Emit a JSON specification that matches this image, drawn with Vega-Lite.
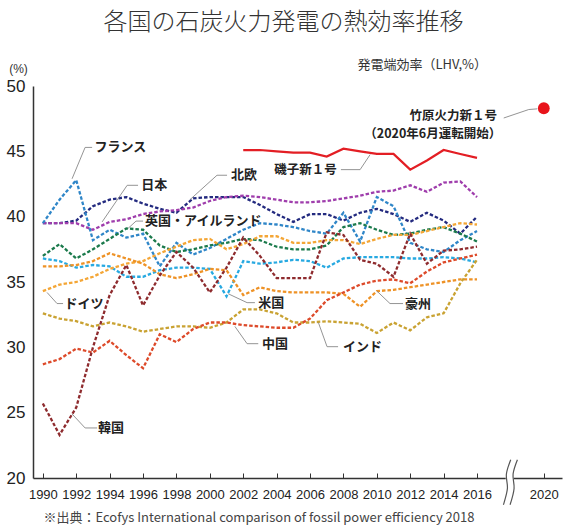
{
  "$schema": "https://vega.github.io/schema/vega-lite/v6.json",
  "width": 529,
  "height": 392,
  "autosize": "none",
  "padding": {"left": 33, "top": 86, "right": 4, "bottom": 48},
  "background": "white",
  "title": {
    "text": "各国の石炭火力発電の熱効率推移",
    "font": "Noto Sans CJK JP",
    "fontSize": 24,
    "fontWeight": 300,
    "color": "#333333",
    "anchor": "middle",
    "frame": "group",
    "dx": -14,
    "offset": 24
  },
  "config": {
    "view": {"stroke": null},
    "font": "Noto Sans CJK JP"
  },
  "datasets": {
    "series": [
      {"country":"Nordic","year":1990,"value":39.5},{"country":"Nordic","year":1991,"value":39.5},{"country":"Nordic","year":1992,"value":39.7},{"country":"Nordic","year":1993,"value":40.8},{"country":"Nordic","year":1994,"value":41.3},{"country":"Nordic","year":1995,"value":41.5},{"country":"Nordic","year":1996,"value":41.0},{"country":"Nordic","year":1997,"value":40.6},{"country":"Nordic","year":1998,"value":40.3},{"country":"Nordic","year":1999,"value":41.4},{"country":"Nordic","year":2000,"value":41.5},{"country":"Nordic","year":2001,"value":41.5},{"country":"Nordic","year":2002,"value":41.5},{"country":"Nordic","year":2003,"value":40.9},{"country":"Nordic","year":2004,"value":40.2},{"country":"Nordic","year":2005,"value":39.6},{"country":"Nordic","year":2006,"value":40.2},{"country":"Nordic","year":2007,"value":40.2},{"country":"Nordic","year":2008,"value":39.7},{"country":"Nordic","year":2009,"value":40.3},{"country":"Nordic","year":2010,"value":40.6},{"country":"Nordic","year":2011,"value":40.2},{"country":"Nordic","year":2012,"value":39.6},{"country":"Nordic","year":2013,"value":40.3},{"country":"Nordic","year":2014,"value":39.7},{"country":"Nordic","year":2015,"value":38.7},{"country":"Nordic","year":2016,"value":40.0},
      {"country":"Japan","year":1990,"value":39.5},{"country":"Japan","year":1991,"value":39.5},{"country":"Japan","year":1992,"value":39.5},{"country":"Japan","year":1993,"value":39.0},{"country":"Japan","year":1994,"value":39.6},{"country":"Japan","year":1995,"value":39.8},{"country":"Japan","year":1996,"value":40.2},{"country":"Japan","year":1997,"value":40.4},{"country":"Japan","year":1998,"value":40.5},{"country":"Japan","year":1999,"value":40.7},{"country":"Japan","year":2000,"value":41.2},{"country":"Japan","year":2001,"value":41.5},{"country":"Japan","year":2002,"value":41.6},{"country":"Japan","year":2003,"value":41.5},{"country":"Japan","year":2004,"value":41.3},{"country":"Japan","year":2005,"value":41.1},{"country":"Japan","year":2006,"value":41.1},{"country":"Japan","year":2007,"value":41.2},{"country":"Japan","year":2008,"value":41.4},{"country":"Japan","year":2009,"value":41.6},{"country":"Japan","year":2010,"value":41.9},{"country":"Japan","year":2011,"value":42.0},{"country":"Japan","year":2012,"value":42.4},{"country":"Japan","year":2013,"value":41.9},{"country":"Japan","year":2014,"value":42.6},{"country":"Japan","year":2015,"value":42.7},{"country":"Japan","year":2016,"value":41.5},
      {"country":"France","year":1990,"value":39.5},{"country":"France","year":1991,"value":41.3},{"country":"France","year":1992,"value":42.8},{"country":"France","year":1993,"value":38.2},{"country":"France","year":1994,"value":39.0},{"country":"France","year":1995,"value":38.4},{"country":"France","year":1996,"value":38.7},{"country":"France","year":1997,"value":36.2},{"country":"France","year":1998,"value":38.0},{"country":"France","year":1999,"value":37.1},{"country":"France","year":2000,"value":37.6},{"country":"France","year":2001,"value":38.3},{"country":"France","year":2002,"value":39.0},{"country":"France","year":2003,"value":39.5},{"country":"France","year":2004,"value":39.4},{"country":"France","year":2005,"value":39.2},{"country":"France","year":2006,"value":38.9},{"country":"France","year":2007,"value":38.7},{"country":"France","year":2008,"value":40.3},{"country":"France","year":2009,"value":38.1},{"country":"France","year":2010,"value":41.5},{"country":"France","year":2011,"value":40.8},{"country":"France","year":2012,"value":38.0},{"country":"France","year":2013,"value":37.5},{"country":"France","year":2014,"value":37.3},{"country":"France","year":2015,"value":38.2},{"country":"France","year":2016,"value":38.9},
      {"country":"UK","year":1990,"value":37.0},{"country":"UK","year":1991,"value":37.9},{"country":"UK","year":1992,"value":36.8},{"country":"UK","year":1993,"value":37.5},{"country":"UK","year":1994,"value":38.3},{"country":"UK","year":1995,"value":39.1},{"country":"UK","year":1996,"value":39.0},{"country":"UK","year":1997,"value":37.8},{"country":"UK","year":1998,"value":37.3},{"country":"UK","year":1999,"value":37.5},{"country":"UK","year":2000,"value":37.8},{"country":"UK","year":2001,"value":38.0},{"country":"UK","year":2002,"value":38.3},{"country":"UK","year":2003,"value":38.2},{"country":"UK","year":2004,"value":37.7},{"country":"UK","year":2005,"value":37.5},{"country":"UK","year":2006,"value":37.5},{"country":"UK","year":2007,"value":37.8},{"country":"UK","year":2008,"value":39.2},{"country":"UK","year":2009,"value":39.5},{"country":"UK","year":2010,"value":39.0},{"country":"UK","year":2011,"value":38.6},{"country":"UK","year":2012,"value":38.7},{"country":"UK","year":2013,"value":39.0},{"country":"UK","year":2014,"value":39.2},{"country":"UK","year":2015,"value":38.7},{"country":"UK","year":2016,"value":38.1},
      {"country":"USA","year":1990,"value":36.8},{"country":"USA","year":1991,"value":36.6},{"country":"USA","year":1992,"value":36.1},{"country":"USA","year":1993,"value":36.3},{"country":"USA","year":1994,"value":36.2},{"country":"USA","year":1995,"value":35.4},{"country":"USA","year":1996,"value":35.4},{"country":"USA","year":1997,"value":35.9},{"country":"USA","year":1998,"value":36.1},{"country":"USA","year":1999,"value":36.1},{"country":"USA","year":2000,"value":36.0},{"country":"USA","year":2001,"value":33.9},{"country":"USA","year":2002,"value":36.6},{"country":"USA","year":2003,"value":36.4},{"country":"USA","year":2004,"value":36.5},{"country":"USA","year":2005,"value":36.7},{"country":"USA","year":2006,"value":36.6},{"country":"USA","year":2007,"value":36.1},{"country":"USA","year":2008,"value":36.8},{"country":"USA","year":2009,"value":36.9},{"country":"USA","year":2010,"value":36.9},{"country":"USA","year":2011,"value":36.9},{"country":"USA","year":2012,"value":36.8},{"country":"USA","year":2013,"value":36.8},{"country":"USA","year":2014,"value":36.9},{"country":"USA","year":2015,"value":36.8},{"country":"USA","year":2016,"value":36.5},
      {"country":"Germany","year":1990,"value":34.3},{"country":"Germany","year":1991,"value":34.8},{"country":"Germany","year":1992,"value":35.0},{"country":"Germany","year":1993,"value":35.4},{"country":"Germany","year":1994,"value":36.0},{"country":"Germany","year":1995,"value":36.4},{"country":"Germany","year":1996,"value":36.6},{"country":"Germany","year":1997,"value":37.2},{"country":"Germany","year":1998,"value":37.7},{"country":"Germany","year":1999,"value":38.2},{"country":"Germany","year":2000,"value":38.3},{"country":"Germany","year":2001,"value":37.5},{"country":"Germany","year":2002,"value":37.9},{"country":"Germany","year":2003,"value":38.5},{"country":"Germany","year":2004,"value":38.5},{"country":"Germany","year":2005,"value":38.0},{"country":"Germany","year":2006,"value":38.0},{"country":"Germany","year":2007,"value":38.2},{"country":"Germany","year":2008,"value":38.2},{"country":"Germany","year":2009,"value":37.9},{"country":"Germany","year":2010,"value":38.3},{"country":"Germany","year":2011,"value":38.6},{"country":"Germany","year":2012,"value":38.6},{"country":"Germany","year":2013,"value":38.9},{"country":"Germany","year":2014,"value":39.2},{"country":"Germany","year":2015,"value":39.5},{"country":"Germany","year":2016,"value":39.4},
      {"country":"Australia","year":1990,"value":36.2},{"country":"Australia","year":1991,"value":36.2},{"country":"Australia","year":1992,"value":36.3},{"country":"Australia","year":1993,"value":36.6},{"country":"Australia","year":1994,"value":37.2},{"country":"Australia","year":1995,"value":36.8},{"country":"Australia","year":1996,"value":36.4},{"country":"Australia","year":1997,"value":35.6},{"country":"Australia","year":1998,"value":35.3},{"country":"Australia","year":1999,"value":35.6},{"country":"Australia","year":2000,"value":36.0},{"country":"Australia","year":2001,"value":35.9},{"country":"Australia","year":2002,"value":34.0},{"country":"Australia","year":2003,"value":34.6},{"country":"Australia","year":2004,"value":34.3},{"country":"Australia","year":2005,"value":34.2},{"country":"Australia","year":2006,"value":34.2},{"country":"Australia","year":2007,"value":34.2},{"country":"Australia","year":2008,"value":34.1},{"country":"Australia","year":2009,"value":33.1},{"country":"Australia","year":2010,"value":34.3},{"country":"Australia","year":2011,"value":34.4},{"country":"Australia","year":2012,"value":34.6},{"country":"Australia","year":2013,"value":34.8},{"country":"Australia","year":2014,"value":35.0},{"country":"Australia","year":2015,"value":35.2},{"country":"Australia","year":2016,"value":35.2},
      {"country":"India","year":1990,"value":32.6},{"country":"India","year":1991,"value":32.2},{"country":"India","year":1992,"value":32.0},{"country":"India","year":1993,"value":31.6},{"country":"India","year":1994,"value":31.9},{"country":"India","year":1995,"value":31.6},{"country":"India","year":1996,"value":31.2},{"country":"India","year":1997,"value":31.4},{"country":"India","year":1998,"value":31.6},{"country":"India","year":1999,"value":31.6},{"country":"India","year":2000,"value":31.5},{"country":"India","year":2001,"value":31.9},{"country":"India","year":2002,"value":32.9},{"country":"India","year":2003,"value":32.9},{"country":"India","year":2004,"value":32.6},{"country":"India","year":2005,"value":31.9},{"country":"India","year":2006,"value":31.9},{"country":"India","year":2007,"value":32.0},{"country":"India","year":2008,"value":31.9},{"country":"India","year":2009,"value":31.8},{"country":"India","year":2010,"value":31.1},{"country":"India","year":2011,"value":31.9},{"country":"India","year":2012,"value":31.3},{"country":"India","year":2013,"value":32.3},{"country":"India","year":2014,"value":32.6},{"country":"India","year":2015,"value":34.9},{"country":"India","year":2016,"value":36.7},
      {"country":"China","year":1990,"value":28.7},{"country":"China","year":1991,"value":29.1},{"country":"China","year":1992,"value":29.9},{"country":"China","year":1993,"value":29.6},{"country":"China","year":1994,"value":30.5},{"country":"China","year":1995,"value":29.4},{"country":"China","year":1996,"value":28.4},{"country":"China","year":1997,"value":31.0},{"country":"China","year":1998,"value":30.4},{"country":"China","year":1999,"value":31.4},{"country":"China","year":2000,"value":31.9},{"country":"China","year":2001,"value":31.9},{"country":"China","year":2002,"value":31.7},{"country":"China","year":2003,"value":31.6},{"country":"China","year":2004,"value":31.5},{"country":"China","year":2005,"value":31.5},{"country":"China","year":2006,"value":32.2},{"country":"China","year":2007,"value":33.6},{"country":"China","year":2008,"value":34.2},{"country":"China","year":2009,"value":34.8},{"country":"China","year":2010,"value":35.1},{"country":"China","year":2011,"value":35.2},{"country":"China","year":2012,"value":34.9},{"country":"China","year":2013,"value":35.8},{"country":"China","year":2014,"value":36.5},{"country":"China","year":2015,"value":36.8},{"country":"China","year":2016,"value":37.1},
      {"country":"Korea","year":1990,"value":25.7},{"country":"Korea","year":1991,"value":23.3},{"country":"Korea","year":1992,"value":25.4},{"country":"Korea","year":1993,"value":30.0},{"country":"Korea","year":1994,"value":34.0},{"country":"Korea","year":1995,"value":36.3},{"country":"Korea","year":1996,"value":33.2},{"country":"Korea","year":1997,"value":35.5},{"country":"Korea","year":1998,"value":37.3},{"country":"Korea","year":1999,"value":36.1},{"country":"Korea","year":2000,"value":34.2},{"country":"Korea","year":2001,"value":36.1},{"country":"Korea","year":2002,"value":38.4},{"country":"Korea","year":2003,"value":37.0},{"country":"Korea","year":2004,"value":35.3},{"country":"Korea","year":2005,"value":35.3},{"country":"Korea","year":2006,"value":35.3},{"country":"Korea","year":2007,"value":38.8},{"country":"Korea","year":2008,"value":38.6},{"country":"Korea","year":2009,"value":36.7},{"country":"Korea","year":2010,"value":36.4},{"country":"Korea","year":2011,"value":35.4},{"country":"Korea","year":2012,"value":38.7},{"country":"Korea","year":2013,"value":36.4},{"country":"Korea","year":2014,"value":37.4},{"country":"Korea","year":2015,"value":37.5},{"country":"Korea","year":2016,"value":37.7}
    ],
    "isogo": [
      {"year":2002,"value":45.1},{"year":2003,"value":45.1},{"year":2004,"value":45.0},{"year":2005,"value":44.9},{"year":2006,"value":44.9},{"year":2007,"value":44.6},{"year":2008,"value":45.2},{"year":2009,"value":45.0},{"year":2010,"value":44.8},{"year":2011,"value":44.8},{"year":2012,"value":43.6},{"year":2013,"value":44.3},{"year":2014,"value":45.1},{"year":2015,"value":44.8},{"year":2016,"value":44.5}
    ],
    "takehara": [{"year":2020,"value":48.3}],
    "leaders": [
      {"id":"fr","i":1,"year":1992.95,"value":45.3},{"id":"fr","i":2,"year":1992.53,"value":45.3},{"id":"fr","i":3,"year":1991.75,"value":42.9},
      {"id":"jp","i":1,"year":1995.7,"value":42.4},{"id":"jp","i":2,"year":1995.05,"value":42.4},{"id":"jp","i":3,"year":1993.55,"value":39.6},
      {"id":"no","i":1,"year":2001.03,"value":43.17},{"id":"no","i":2,"year":2000.43,"value":43.17},{"id":"no","i":3,"year":1998.81,"value":41.3},
      {"id":"uk","i":1,"year":1996.0,"value":39.66},{"id":"uk","i":2,"year":1995.58,"value":39.66},{"id":"uk","i":3,"year":1995.1,"value":39.1},
      {"id":"de","i":1,"year":1991.21,"value":33.35},{"id":"de","i":2,"year":1990.85,"value":33.35},{"id":"de","i":3,"year":1990.25,"value":34.2},
      {"id":"kr","i":1,"year":1993.25,"value":23.83},{"id":"kr","i":2,"year":1992.53,"value":23.83},{"id":"kr","i":3,"year":1991.75,"value":24.9},
      {"id":"us","i":1,"year":2002.7,"value":33.42},{"id":"us","i":2,"year":2002.23,"value":33.42},{"id":"us","i":3,"year":2001.1,"value":34.1},
      {"id":"cn","i":1,"year":2002.9,"value":30.28},{"id":"cn","i":2,"year":2002.23,"value":30.28},{"id":"cn","i":3,"year":2001.5,"value":31.6},
      {"id":"in","i":1,"year":2007.68,"value":30.05},{"id":"in","i":2,"year":2007.02,"value":30.05},{"id":"in","i":3,"year":2006.5,"value":31.9},
      {"id":"au","i":1,"year":2011.57,"value":33.35},{"id":"au","i":2,"year":2010.79,"value":33.35},{"id":"au","i":3,"year":2010.01,"value":34.3},
      {"id":"is","i":1,"year":2007.85,"value":43.6},{"id":"is","i":2,"year":2009.0,"value":43.6},{"id":"is","i":3,"year":2009.6,"value":44.75},
      {"id":"tk","i":1,"year":2017.6,"value":47.55},{"id":"tk","i":2,"year":2019.1,"value":48.2},{"id":"tk","i":3,"year":2019.6,"value":48.25}
    ],
    "labelsLeft": [
      {"label":"フランス","year":1993.1,"value":45.3},
      {"label":"日本","year":1995.9,"value":42.4},
      {"label":"北欧","year":2001.27,"value":43.17},
      {"label":"英国・アイルランド","year":1996.12,"value":39.66},
      {"label":"ドイツ","year":1991.3,"value":33.35},
      {"label":"韓国","year":1993.3,"value":23.83},
      {"label":"米国","year":2002.9,"value":33.42},
      {"label":"中国","year":2003.13,"value":30.28},
      {"label":"インド","year":2007.98,"value":30.05},
      {"label":"豪州","year":2011.69,"value":33.35}
    ],
    "labelsRight": [
      {"label":"磯子新１号","year":2007.6,"value":43.6},
      {"label":"竹原火力新１号","year":2017.2,"value":47.7},
      {"label":"（2020年6月運転開始）","year":2017.45,"value":46.3}
    ],
    "note": [{"label":"発電端効率（LHV,%）","year":2016.6,"value":51.6}],
    "breakLines": [
      {"id":"a","i":1,"year":2018.42,"value":21.4},{"id":"a","i":2,"year":2018.16,"value":20.3},{"id":"a","i":3,"year":2018.22,"value":19.2},{"id":"a","i":4,"year":2017.98,"value":17.95},
      {"id":"b","i":1,"year":2018.02,"value":21.4},{"id":"b","i":2,"year":2017.76,"value":20.3},{"id":"b","i":3,"year":2017.82,"value":19.2},{"id":"b","i":4,"year":2017.58,"value":17.95}
    ],
    "breakGap": [{"year":2017.72,"year2":2018.2,"value":19.8,"value2":20.2}]
  },
  "encoding": {
    "x": {
      "field": "year",
      "type": "quantitative",
      "scale": {"domain": [1989.41, 2021.09], "nice": false, "zero": false},
      "axis": {
        "values": [1990, 1992, 1994, 1996, 1998, 2000, 2002, 2004, 2006, 2008, 2010, 2012, 2014, 2016, 2020],
        "format": "d",
        "grid": false,
        "zindex": 0,
        "labelOverlap": false,
        "labelFlush": false,
        "domainColor": "#333333",
        "domainWidth": 1.5,
        "tickColor": "#333333",
        "tickSize": -5,
        "tickWidth": 1,
        "labelPadding": 15,
        "labelFont": "Liberation Sans",
        "labelFontSize": 13,
        "labelColor": "#222222",
        "title": "※出典：Ecofys International comparison of fossil power efficiency 2018",
        "titleFont": "Noto Sans CJK JP",
        "titleFontSize": 13,
        "titleFontWeight": "normal",
        "titleColor": "#444444",
        "titleAnchor": "start",
        "titleAlign": "left",
        "titleBaseline": "middle",
        "titleX": 10,
        "titleY": 39
      }
    },
    "y": {
      "field": "value",
      "type": "quantitative",
      "scale": {"domain": [20, 50], "nice": false, "zero": false},
      "axis": {
        "values": [20, 25, 30, 35, 40, 45, 50],
        "grid": false,
        "ticks": false,
        "zindex": 0,
        "labelOverlap": false,
        "domainColor": "#333333",
        "domainWidth": 1.5,
        "labelPadding": 8,
        "labelFont": "Liberation Sans",
        "labelFontSize": 17,
        "labelColor": "#222222",
        "title": "(%)",
        "titleFont": "Liberation Sans",
        "titleFontSize": 12,
        "titleFontWeight": "normal",
        "titleColor": "#333333",
        "titleAngle": 0,
        "titleAlign": "center",
        "titleBaseline": "middle",
        "titleX": -15,
        "titleY": -18
      }
    }
  },
  "layer": [
    {
      "data": {"name": "series"},
      "mark": {"type": "line", "strokeDash": [3.5, 2], "strokeWidth": 2.3, "clip": false},
      "encoding": {
        "color": {
          "field": "country",
          "type": "nominal",
          "scale": {
            "domain": ["Nordic", "Japan", "France", "UK", "USA", "Germany", "Australia", "India", "China", "Korea"],
            "range": ["#232a7f", "#9f3dac", "#2f86c8", "#1b7a4c", "#27a9e1", "#f4a636", "#ee9226", "#c9a232", "#dd4a2a", "#8e2b2e"]
          },
          "legend": null
        },
        "detail": {"field": "country"}
      }
    },
    {
      "data": {"name": "isogo"},
      "mark": {"type": "line", "color": "#e31e24", "strokeWidth": 2.2},
      "encoding": {}
    },
    {
      "data": {"name": "takehara"},
      "mark": {"type": "point", "shape": "circle", "filled": true, "color": "#e8141b", "size": 140, "opacity": 1},
      "encoding": {}
    },
    {
      "data": {"name": "leaders"},
      "mark": {"type": "line", "color": "#888888", "strokeWidth": 0.9},
      "encoding": {
        "detail": {"field": "id"},
        "order": {"field": "i", "type": "quantitative"}
      }
    },
    {
      "data": {"name": "labelsLeft"},
      "mark": {"type": "text", "align": "left", "baseline": "middle", "font": "Noto Sans CJK JP", "fontWeight": "bold", "fontSize": 13, "color": "#222222"},
      "encoding": {"text": {"field": "label"}}
    },
    {
      "data": {"name": "labelsRight"},
      "mark": {"type": "text", "align": "right", "baseline": "middle", "font": "Noto Sans CJK JP", "fontWeight": "bold", "fontSize": 12.5, "color": "#222222"},
      "encoding": {"text": {"field": "label"}}
    },
    {
      "data": {"name": "note"},
      "mark": {"type": "text", "align": "right", "baseline": "middle", "font": "Noto Sans CJK JP", "fontSize": 13, "color": "#333333"},
      "encoding": {"text": {"field": "label"}}
    },
    {
      "data": {"name": "breakGap"},
      "mark": {"type": "rect", "color": "white", "opacity": 1},
      "encoding": {"x2": {"field": "year2"}, "y2": {"field": "value2"}}
    },
    {
      "data": {"name": "breakLines"},
      "mark": {"type": "line", "color": "#555555", "strokeWidth": 1.2, "interpolate": "catmull-rom"},
      "encoding": {
        "detail": {"field": "id"},
        "order": {"field": "i", "type": "quantitative"}
      }
    }
  ]
}
